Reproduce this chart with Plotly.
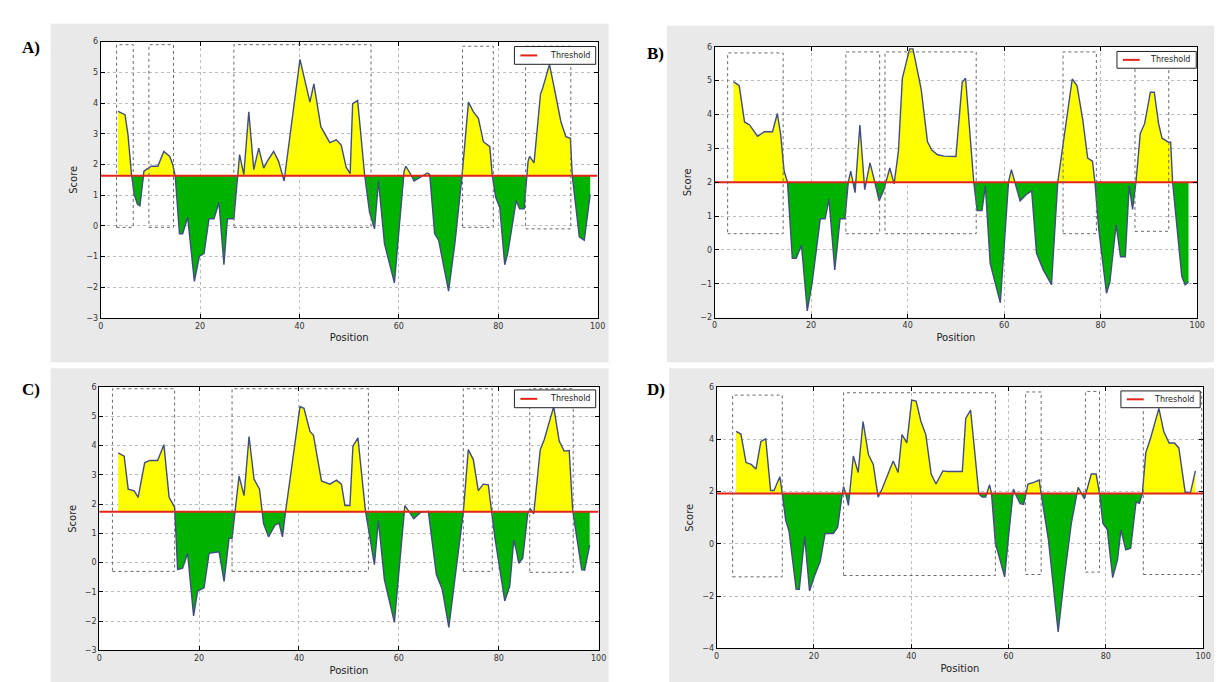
import plotly.graph_objects as go

W, H = 1222, 682

# ---------------- data ----------------
A_pos = [3.5, 4.9, 5.5, 6.2, 6.75, 7.4, 7.9, 8.7, 9.2, 10.2,
         11.5, 12.7, 13.9, 14.5, 15.0, 15.85, 16.5, 17.5, 18.85, 19.85,
         20.8, 21.8, 22.8, 23.8, 24.8, 25.5, 26.8, 27.5, 27.95, 28.8,
         29.8, 30.8, 31.8, 32.8, 33.5, 34.8, 35.8, 36.9, 40.1, 42.1,
         42.9, 44.3, 45.2, 46.1, 47.4, 48.4, 49.4, 50.2, 50.7, 51.7,
         53.1, 54.1, 55.1, 55.9, 57.1, 59.1, 61.05, 61.4, 62.4, 63.05,
         64.1, 65.7, 66.2, 67.2, 68.0, 70.0, 71.3, 72.7, 74.0, 75.0,
         76.0, 77.0, 78.3, 78.8, 79.5, 80.3, 81.3, 81.9, 82.65, 83.6,
         84.3, 85.2, 86.0, 86.3, 87.2, 88.5, 88.9, 90.3, 91.3, 92.6,
         93.6, 94.5, 94.9, 96.3, 97.3, 98.5]
A_val = [3.73, 3.62, 2.96, 1.67, 1.02, 0.7, 0.65, 1.78, 1.84, 1.94,
         1.94, 2.42, 2.26, 1.99, 1.62, -0.26, -0.26, 0.28, -1.81, -1.0,
         -0.9, 0.23, 0.23, 0.76, -1.27, 0.23, 0.23, 1.62, 2.32, 1.67,
         3.71, 1.83, 2.53, 1.88, 2.1, 2.42, 2.1, 1.46, 5.42, 4.03,
         4.62, 3.23, 2.95, 2.71, 2.8, 2.63, 1.9, 1.7, 3.98, 4.08,
         1.67, 0.44, -0.1, 1.46, -0.58, -1.86, 1.78, 1.94, 1.67, 1.46,
         1.56, 1.72, 1.67, -0.26, -0.47, -2.13, -0.53, 1.62, 4.03, 3.71,
         3.5, 2.74, 2.58, 1.62, 0.92, 0.6, -1.27, -0.9, -0.15, 0.82,
         0.55, 0.55, 2.1, 2.26, 2.05, 4.3, 4.46, 5.26, 4.46, 3.39,
         2.9, 2.85, 1.62, -0.36, -0.47, 1.02]
A_thr = 1.63
A_box_x0 = [3.2, 9.7, 26.8, 72.8, 85.5]
A_box_x1 = [6.55, 14.65, 54.4, 79.0, 94.6]
A_box_y0 = [-0.05, -0.05, -0.05, -0.05, -0.1]
A_box_y1 = [5.9, 5.9, 5.9, 5.85, 5.85]

B_pos = [3.9, 5.1, 6.2, 7.2, 8.9, 10.3, 12.0, 13.0, 13.7, 14.4,
         15.1, 16.1, 16.9, 18.0, 19.2, 20.2, 21.9, 22.9, 23.7, 24.9,
         26.0, 27.0, 27.7, 28.2, 29.1, 30.1, 31.1, 32.2, 33.2, 34.1,
         35.1, 36.3, 37.2, 38.1, 38.9, 40.4, 41.1, 42.8, 44.1, 45.0,
         46.2, 47.6, 50.0, 51.3, 52.0, 52.7, 53.7, 54.4, 55.4, 56.1,
         57.1, 59.2, 60.9, 61.5, 62.3, 63.3, 64.7, 65.7, 66.7, 68.1,
         69.8, 71.1, 74.1, 75.1, 76.3, 77.3, 78.3, 78.8, 79.6, 81.2,
         81.9, 83.2, 84.1, 85.1, 85.9, 86.6, 87.3, 88.2, 89.1, 90.3,
         91.1, 92.0, 92.7, 94.1, 94.5, 94.9, 96.8, 97.5, 98.2]
B_val = [4.97, 4.85, 3.78, 3.7, 3.36, 3.49, 3.49, 4.03, 3.4, 2.33,
         2.0, -0.25, -0.25, 0.14, -1.8, -0.98, 0.92, 0.92, 1.5, -0.59,
         0.92, 0.92, 2.0, 2.33, 1.69, 3.69, 1.78, 2.57, 2.0, 1.45,
         1.79, 2.42, 1.95, 2.94, 5.07, 5.94, 5.94, 4.75, 3.2, 2.95,
         2.81, 2.77, 2.76, 4.95, 5.07, 3.78, 2.0, 1.16, 1.16, 1.89,
         -0.4, -1.56, 2.0, 2.37, 1.99, 1.45, 1.65, 1.74, -0.1, -0.59,
         -1.03, 2.0, 5.05, 4.85, 3.83, 2.71, 2.62, 2.0, 0.6, -1.28,
         -0.95, 0.75, -0.2, -0.2, 1.9, 1.2, 2.0, 3.44, 3.73, 4.66,
         4.66, 3.73, 3.3, 3.18, 3.18, 2.0, -0.78, -1.03, -0.95]
B_thr = 2.0
B_box_x0 = [2.7, 27.2, 35.3, 72.2, 87.1]
B_box_x1 = [14.2, 34.2, 54.2, 79.1, 94.1]
B_box_y0 = [0.48, 0.48, 0.48, 0.48, 0.55]
B_box_y1 = [5.82, 5.85, 5.85, 5.85, 5.85]

C_pos = [3.8, 5.0, 5.8, 7.0, 7.8, 9.1, 10.1, 11.7, 12.95, 13.7,
         14.0, 15.1, 15.7, 16.7, 17.7, 18.9, 19.7, 21.0, 22.0, 24.0,
         25.0, 26.0, 26.6, 28.0, 29.0, 30.0, 31.0, 32.1, 32.9, 33.9,
         35.2, 36.0, 36.7, 37.3, 40.2, 41.0, 42.2, 42.9, 44.5, 46.2,
         47.5, 48.5, 49.2, 50.2, 50.8, 51.8, 53.3, 55.1, 55.9, 57.1,
         59.1, 61.2, 63.0, 64.4, 65.9, 67.5, 68.7, 70.0, 71.6, 72.9,
         73.9, 74.9, 75.9, 76.9, 77.9, 78.6, 79.2, 81.2, 82.2, 83.0,
         83.5, 84.0, 84.8, 85.8, 86.3, 87.0, 88.3, 89.1, 91.0, 92.1,
         93.1, 94.1, 94.8, 96.6, 97.2, 98.2]
C_val = [3.75, 3.64, 2.51, 2.45, 2.23, 3.41, 3.49, 3.49, 4.03, 2.8,
         2.23, 1.89, -0.24, -0.19, 0.32, -1.82, -0.97, -0.86, 0.32, 0.37,
         -0.64, 0.83, 0.83, 2.96, 2.29, 4.31, 2.85, 2.51, 1.33, 0.88,
         1.28, 1.35, 0.88, 1.72, 5.33, 5.27, 4.48, 4.35, 2.79, 2.68,
         2.82, 2.68, 1.95, 1.95, 3.98, 4.26, 1.78, -0.07, 1.44, -0.58,
         -2.04, 1.95, 1.5, 1.72, 1.75, -0.41, -0.92, -2.21, -0.13, 1.72,
         3.86, 3.52, 2.46, 2.68, 2.66, 1.78, 0.88, -1.31, -0.8, 0.77,
         0.43, -0.02, 0.15, 1.67, 1.84, 1.67, 3.86, 4.2, 5.33, 4.15,
         3.81, 3.83, 1.78, -0.24, -0.26, 0.6]
C_thr = 1.74
C_box_x0 = [2.65, 26.6, 72.9, 86.2]
C_box_x1 = [15.1, 53.9, 78.7, 94.9]
C_box_y0 = [-0.3, -0.3, -0.3, -0.33]
C_box_y1 = [5.94, 5.94, 5.94, 5.94]

D_pos = [4.0, 5.0, 6.05, 7.1, 8.1, 9.1, 10.1, 11.1, 11.8, 13.0,
         13.5, 14.2, 14.9, 16.35, 17.0, 18.1, 19.1, 20.1, 21.3, 22.3,
         24.0, 24.9, 25.7, 26.1, 26.6, 27.1, 28.1, 29.1, 30.1, 31.2,
         32.2, 33.2, 34.0, 35.2, 36.3, 37.3, 38.1, 39.1, 40.1, 41.0,
         42.0, 43.0, 44.1, 45.1, 46.5, 47.5, 50.5, 51.2, 52.2, 52.9,
         53.9, 54.6, 55.3, 56.1, 56.5, 57.3, 59.2, 60.0, 61.0, 61.7,
         62.4, 63.1, 64.0, 65.2, 66.3, 66.7, 68.2, 70.2, 71.5, 72.9,
         74.3, 75.0, 75.6, 77.0, 78.0, 78.7, 79.4, 80.3, 81.4, 82.4,
         83.1, 84.1, 85.1, 86.2, 86.9, 87.5, 88.2, 89.2, 90.9, 91.9,
         93.0, 94.1, 95.0, 96.3, 97.4, 98.4]
D_val = [4.3, 4.2, 3.11, 3.04, 2.86, 3.92, 4.02, 2.04, 2.04, 2.57,
         1.92, 0.91, 0.47, -1.74, -1.74, 0.28, -1.8, -1.24, -0.67, 0.4,
         0.4, 0.65, 1.76, 2.19, 1.87, 1.47, 3.36, 2.73, 4.68, 3.42,
         3.04, 1.79, 2.1, 2.67, 3.17, 2.73, 4.18, 3.86, 5.5, 5.46,
         4.68, 4.18, 2.67, 2.29, 2.79, 2.77, 2.77, 4.8, 5.12, 3.8,
         1.91, 1.79, 1.79, 2.26, 1.92, 0.03, -1.26, 0.28, 2.1, 1.79,
         1.54, 1.51, 2.29, 2.35, 2.44, 1.92, 0.15, -3.37, -1.23, 0.78,
         2.16, 1.92, 1.72, 2.67, 2.67, 1.92, 0.78, 0.55, -1.29, -0.6,
         0.53, -0.23, -0.17, 1.6, 1.55, 1.92, 3.48, 4.05, 5.18, 4.3,
         3.86, 3.86, 3.67, 1.97, 1.97, 2.79]
D_thr = 1.93
D_box_x0 = [3.3, 26.1, 63.5, 75.8, 87.7]
D_box_x1 = [13.5, 57.3, 66.7, 78.7, 99.7]
D_box_y0 = [-1.26, -1.21, -1.17, -1.08, -1.17]
D_box_y1 = [5.69, 5.78, 5.81, 5.83, 5.8]

labels = ["A)", "B)", "C)", "D)"]
x_ticks = [0, 20, 40, 60, 80, 100]
legend_text = "Threshold"

# ---------------- layout geometry (pixels) ----------------
panels = [
    dict(pos=A_pos, val=A_val, thr=A_thr, bx0=A_box_x0, bx1=A_box_x1, by0=A_box_y0, by1=A_box_y1,
         yr=(-3, 6), dt=1, plot=(90.5, 592, 30, 310), grey=(40, 603, 12, 355),
         lab=(20, 36), leg=(508, 590, 35, 53)),
    dict(pos=B_pos, val=B_val, thr=B_thr, bx0=B_box_x0, bx1=B_box_x1, by0=B_box_y0, by1=B_box_y1,
         yr=(-2, 6), dt=1, plot=(710, 1197, 35.3, 309.7), grey=(662, 1216, 14, 355),
         lab=(650, 42), leg=(1116, 1196, 40, 57)),
    dict(pos=C_pos, val=C_val, thr=C_thr, bx0=C_box_x0, bx1=C_box_x1, by0=C_box_y0, by1=C_box_y1,
         yr=(-3, 6), dt=1, plot=(89, 593, 380, 647), grey=(40, 603, 361, 682),
         lab=(20, 383), leg=(508, 590, 383, 401)),
    dict(pos=D_pos, val=D_val, thr=D_thr, bx0=D_box_x0, bx1=D_box_x1, by0=D_box_y0, by1=D_box_y1,
         yr=(-4, 6), dt=2, plot=(712, 1203, 380, 645), grey=(664, 1218, 361, 682),
         lab=(651, 383), leg=(1120, 1200, 384, 401)),
]

YELLOW = "#ffff00"
GREEN = "#00b200"
LINE = "#414d7e"
RED = "#e3241b"
GREY_BG = "#e9e9e9"


def fx(px):
    return px / W


def fy(py):
    return 1 - py / H


def split(xs, ys, t):
    X, Y = [xs[0]], [ys[0]]
    for i in range(1, len(xs)):
        x0, y0, x1, y1 = xs[i - 1], ys[i - 1], xs[i], ys[i]
        if (y0 - t) * (y1 - t) < 0:
            X.append(x0 + (t - y0) * (x1 - x0) / (y1 - y0))
            Y.append(t)
        X.append(x1)
        Y.append(y1)
    return X, Y


fig = go.Figure()
shapes = []
annotations = []
layout_axes = {}

for i, p in enumerate(panels):
    n = i + 1
    xa = "x" if n == 1 else f"x{n}"
    ya = "y" if n == 1 else f"y{n}"
    X, Y = split(p["pos"], p["val"], p["thr"])
    t = p["thr"]
    base = [t] * len(X)
    up = [max(v, t) for v in Y]
    lo = [min(v, t) for v in Y]
    common = dict(xaxis=xa, yaxis=ya, hoverinfo="skip", showlegend=False)
    fig.add_trace(go.Scatter(x=X, y=base, mode="lines", line=dict(width=0), **common))
    fig.add_trace(go.Scatter(x=X, y=up, mode="lines", line=dict(width=0), fill="tonexty",
                             fillcolor=YELLOW, **common))
    fig.add_trace(go.Scatter(x=X, y=base, mode="lines", line=dict(width=0), **common))
    fig.add_trace(go.Scatter(x=X, y=lo, mode="lines", line=dict(width=0), fill="tonexty",
                             fillcolor=GREEN, **common))
    fig.add_trace(go.Scatter(x=p["pos"], y=p["val"], mode="lines",
                             line=dict(color=LINE, width=1.4), **common))
    fig.add_trace(go.Scatter(x=[x_ticks[0], x_ticks[-1]], y=[t, t], mode="lines",
                             line=dict(color=RED, width=2), name=legend_text, **common))

    # epitope boxes
    for a, b, c, d in zip(p["bx0"], p["bx1"], p["by0"], p["by1"]):
        shapes.append(dict(type="rect", xref=xa, yref=ya, x0=a, x1=b, y0=c, y1=d,
                           line=dict(color="#6a6a6a", width=1, dash="dot"),
                           fillcolor="rgba(0,0,0,0)", layer="above"))

    # grey panel background and white plot area
    gx0, gx1, gy0, gy1 = p["grey"]
    shapes.append(dict(type="rect", xref="paper", yref="paper", x0=fx(gx0), x1=fx(gx1),
                       y0=fy(gy1), y1=fy(gy0), fillcolor=GREY_BG, line=dict(width=0),
                       layer="below"))
    px0, px1, py0, py1 = p["plot"]
    shapes.append(dict(type="rect", xref="paper", yref="paper", x0=fx(px0), x1=fx(px1),
                       y0=fy(py1), y1=fy(py0), fillcolor="white", line=dict(width=0),
                       layer="below"))

    # legend box (drawn by hand)
    lx0, lx1, ly0, ly1 = p["leg"]
    ym = (ly0 + ly1) / 2
    shapes.append(dict(type="rect", xref="paper", yref="paper", x0=fx(lx0), x1=fx(lx1),
                       y0=fy(ly1), y1=fy(ly0), fillcolor="white",
                       line=dict(color="#222222", width=1), layer="above"))
    shapes.append(dict(type="line", xref="paper", yref="paper", x0=fx(lx0 + 6), x1=fx(lx0 + 23),
                       y0=fy(ym), y1=fy(ym), line=dict(color=RED, width=2), layer="above"))
    annotations.append(dict(text=legend_text, xref="paper", yref="paper",
                            x=fx(lx1 - 4), y=fy(ym), xanchor="right", yanchor="middle",
                            showarrow=False,
                            font=dict(family="DejaVu Sans", size=8, color="#222222")))

    annotations.append(dict(text=f"<b>{labels[i]}</b>", xref="paper", yref="paper",
                            x=fx(p["lab"][0]), y=fy(p["lab"][1]), xanchor="center",
                            yanchor="middle", showarrow=False,
                            font=dict(family="Liberation Serif", size=17, color="black")))

    axis_common = dict(showline=True, mirror="ticks", linecolor="black", linewidth=1,
                       ticks="inside", ticklen=4, tickcolor="black",
                       showgrid=True, gridcolor="#bcbcbc", griddash="dot", gridwidth=1,
                       zeroline=False,
                       tickfont=dict(family="DejaVu Sans", size=8, color="#333333"))
    xk = "xaxis" if n == 1 else f"xaxis{n}"
    yk = "yaxis" if n == 1 else f"yaxis{n}"
    layout_axes[xk] = dict(domain=[fx(px0), fx(px1)], anchor=ya, range=[x_ticks[0], x_ticks[-1]],
                           tickvals=x_ticks,
                           title=dict(text="Position", standoff=4,
                                      font=dict(family="DejaVu Sans", size=10, color="#222")),
                           **axis_common)
    layout_axes[yk] = dict(domain=[fy(py1), fy(py0)], anchor=xa, range=list(p["yr"]),
                           dtick=p["dt"], tick0=0,
                           title=dict(text="Score", standoff=6,
                                      font=dict(family="DejaVu Sans", size=10, color="#222")),
                           **axis_common)

fig.update_layout(width=W, height=H, margin=dict(l=0, r=0, t=0, b=0),
                  paper_bgcolor="white", plot_bgcolor="rgba(0,0,0,0)",
                  showlegend=False, shapes=shapes, annotations=annotations, **layout_axes)

fig.write_html("out.html")
